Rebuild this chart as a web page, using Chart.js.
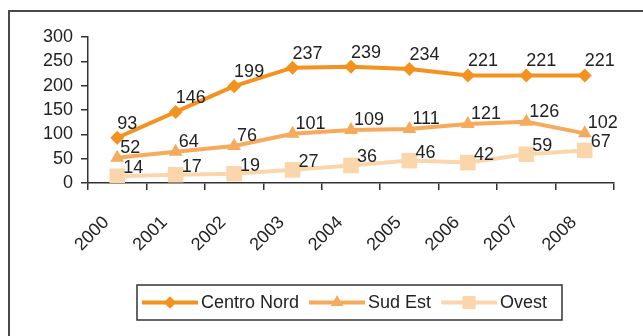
<!DOCTYPE html>
<html>
<head>
<meta charset="utf-8">
<script src="https://cdn.jsdelivr.net/npm/chart.js@4/dist/chart.umd.min.js"></script>
<style>
    html, body { margin: 0; padding: 0; background: #fff; }
    #wrap { position: relative; width: 643px; height: 336px; }
</style>
</head>
<body>
<div id="wrap"><canvas id="myChart" width="643" height="336"></canvas></div>
<script>
const years = ["2000", "2001", "2002", "2003", "2004", "2005", "2006", "2007", "2008"];
const centroNord = [93, 146, 199, 237, 239, 234, 221, 221, 221];
const sudEst = [52, 64, 76, 101, 109, 111, 121, 126, 102];
const ovest = [14, 17, 19, 27, 36, 46, 42, 59, 67];
const yTicks = [0, 50, 100, 150, 200, 250, 300];

const FONT = "'Liberation Sans', Arial, sans-serif";
const TEXT = "#222";
const AXIS = "#333";

// outer frame, only top and left edges show
const framePlugin = {
    id: "frame",
    beforeDraw(chart) {
        const ctx = chart.ctx;
        ctx.save();
        ctx.fillStyle = "#fff";
        ctx.fillRect(0, 0, chart.width, chart.height);
        ctx.strokeStyle = "#4a4a4a";
        ctx.lineWidth = 2;
        ctx.beginPath();
        ctx.moveTo(9, chart.height);
        ctx.lineTo(9, 11);
        ctx.lineTo(chart.width, 11);
        ctx.stroke();
        ctx.restore();
    },
};

// value next to every point
const valueLabels = {
    id: "valueLabels",
    afterDatasetsDraw(chart) {
        const ctx = chart.ctx;
        ctx.save();
        ctx.font = "18px " + FONT;
        ctx.fillStyle = TEXT;
        ctx.textBaseline = "middle";
        chart.data.datasets.forEach((ds, i) => {
            const meta = chart.getDatasetMeta(i);
            const off = ds.labelOffset;
            ctx.textAlign = off.align;
            meta.data.forEach((pt, j) => {
                ctx.fillText(String(ds.data[j]), pt.x + off.dx, pt.y + off.dy);
            });
        });
        ctx.restore();
    },
};

// boxed legend with line + marker samples
const boxLegend = {
    id: "boxLegend",
    afterDraw(chart) {
        const ctx = chart.ctx;
        const box = { left: 137, top: 285, right: 562, bottom: 320 };
        const cy = (box.top + box.bottom) / 2;
        ctx.save();
        ctx.strokeStyle = "#333";
        ctx.lineWidth = 1.5;
        ctx.strokeRect(box.left, box.top, box.right - box.left, box.bottom - box.top);
        ctx.font = "18px " + FONT;
        ctx.textBaseline = "middle";
        ctx.textAlign = "left";
        let x = 142;
        chart.data.datasets.forEach((ds) => {
            ctx.strokeStyle = ds.borderColor;
            ctx.lineWidth = 4;
            ctx.beginPath();
            ctx.moveTo(x, cy);
            ctx.lineTo(x + 56, cy);
            ctx.stroke();
            ctx.fillStyle = ds.borderColor;
            Chart.helpers.drawPoint(ctx, {
                pointStyle: ds.pointStyle,
                radius: ds.legendRadius,
                rotation: 0,
                borderWidth: 0,
            }, x + 28, cy);
            ctx.fill();
            ctx.fillStyle = TEXT;
            ctx.fillText(ds.label, x + 59, cy + 1);
            x += 59 + ctx.measureText(ds.label).width + 10;
        });
        ctx.restore();
    },
};

const data = {
    labels: years,
    datasets: [
        {
            label: "Centro Nord",
            data: centroNord,
            borderColor: "#f4921f",
            backgroundColor: "#f4921f",
            pointStyle: "rectRot",
            pointRadius: 7,
            legendRadius: 6,
            labelOffset: { align: "left", dx: 0, dy: -14 },
        },
        {
            label: "Sud Est",
            data: sudEst,
            borderColor: "#f6aa5b",
            backgroundColor: "#f6aa5b",
            pointStyle: "triangle",
            pointRadius: 8,
            legendRadius: 7,
            labelOffset: { align: "left", dx: 3, dy: -10 },
        },
        {
            label: "Ovest",
            data: ovest,
            borderColor: "#fcd6ab",
            backgroundColor: "#fcd6ab",
            pointStyle: "rect",
            pointRadius: 11,
            legendRadius: 9,
            labelOffset: { align: "left", dx: 6, dy: -8 },
        },
    ],
};

const options = {
    responsive: false,
    animation: false,
    layout: { padding: { left: 20, right: 29, top: 37, bottom: 0 } },
    elements: {
        line: { borderWidth: 4, tension: 0 },
        point: { borderWidth: 0, hoverRadius: 7 },
    },
    plugins: {
        legend: { display: false },
        tooltip: { enabled: false },
    },
    scales: {
        x: {
            offset: true,
            grid: {
                offset: true,
                drawOnChartArea: false,
                drawTicks: true,
                tickLength: 7,
                color: AXIS,
                lineWidth: 1.5,
            },
            border: { color: AXIS, width: 1.5 },
            ticks: {
                autoSkip: false,
                minRotation: 45,
                maxRotation: 45,
                padding: 22,
                labelOffset: -11,
                color: TEXT,
                font: { family: FONT, size: 18 },
            },
            afterFit: (s) => { s.height = 153; },
        },
        y: {
            min: yTicks[0],
            max: yTicks[yTicks.length - 1],
            afterBuildTicks: (s) => { s.ticks = yTicks.map((v) => ({ value: v })); },
            grid: {
                drawOnChartArea: false,
                drawTicks: true,
                tickLength: 7,
                color: AXIS,
                lineWidth: 1.5,
            },
            border: { color: AXIS, width: 1.5 },
            ticks: {
                autoSkip: false,
                padding: 8,
                color: TEXT,
                font: { family: FONT, size: 18 },
            },
            afterFit: (s) => { s.width = 68; },
        },
    },
};

var canvas = document.getElementById("myChart");
var ctx = canvas.getContext("2d");
var myChart = new Chart(ctx, {
    type: "line",
    data: data,
    options: options,
    plugins: [framePlugin, valueLabels, boxLegend],
});
</script>
</body>
</html>
